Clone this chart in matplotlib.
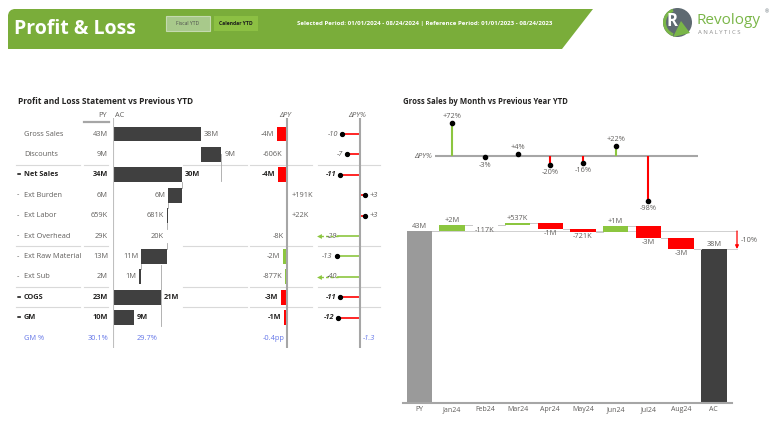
import matplotlib
matplotlib.use("Agg")
import matplotlib.pyplot as plt
from matplotlib.patches import Polygon, Rectangle, Circle, Wedge

plt.rcParams['font.family'] = ['Open Sans', 'DejaVu Sans']

# -----------------------------------------
# DATOS
# -----------------------------------------

rows = ["Gross Sales", "Discounts", "Net Sales", "Ext Burden", "Ext Labor",
        "Ext Overhead", "Ext Raw Material", "Ext Sub", "COGS", "GM"]
row_marks = ["", "", "=", "-", "-", "-", "-", "-", "=", "="]
py_labels = ["43M", "9M", "34M", "6M", "659K", "29K", "13M", "2M", "23M", "10M"]
ac_values = [38.0, 8.8, 29.6, 5.7, 0.681, 0.020, 10.9, 1.2, 20.8, 9.0]
ac_labels = ["38M", "9M", "30M", "6M", "681K", "20K", "11M", "1M", "21M", "9M"]
dpy_values = [-4.3, -0.606, -3.9, 0.191, 0.022, -0.008, -1.7, -0.877, -2.6, -1.3]
dpy_labels = ["-4M", "-606K", "-4M", "+191K", "+22K", "-8K", "-2M", "-877K", "-3M", "-1M"]
dpy_pct = [-10, -7, -11, 3, 3, -29, -13, -40, -11, -12]
favourable = [False, False, False, False, False, True, True, True, False, False]
gm_row = ["GM %", "30.1%", "29.7%", "-0.4pp", "-1.3"]

categories = ["PY", "Jan24", "Feb24", "Mar24", "Apr24", "May24", "Jun24",
              "Jul24", "Aug24", "AC"]
py_total = 43.0
month_delta = [1.5, -0.117, 0.537, -1.4, -0.721, 1.4, -2.9, -2.8]
month_labels = ["+2M", "-117K", "+537K", "-1M", "-721K", "+1M", "-3M", "-3M"]
month_pct = [72, -3, 4, -20, -16, 22, -98]

# -----------------------------------------
# ESTILO
# -----------------------------------------

W, H = 782, 430
GREEN = '#8CC63F'
RED = '#FF0000'
TXT = '#605E5C'
DARK = '#252423'
BLUE = '#6476E8'
AXC = '#A6A6A6'
FS = 5.3

fig = plt.figure(figsize=(W / 100, H / 100), dpi=100)


def px_axes(x0, y0, x1, y1):
    ax = fig.add_axes([x0 / W, 1 - y1 / H, (x1 - x0) / W, (y1 - y0) / H])
    ax.set_axis_off()
    return ax


# -----------------------------------------
# CABECERA
# -----------------------------------------

bg = px_axes(0, 0, W, H)
bg.set_xlim(0, W)
bg.set_ylim(H, 0)

banda = [(8, 49), (8, 15), (9, 12), (11, 10), (14, 9), (593, 9), (562, 49)]
bg.add_patch(Polygon(banda, closed=True, color='#7AAD3A', lw=0))
bg.text(14, 29, "Profit & Loss", color='white', fontsize=14,
        fontweight='bold', va='center', ha='left')

bg.add_patch(Rectangle((166, 16), 44, 15, facecolor='#A8C98B',
                       edgecolor='#C5DAB0', lw=0.8))
bg.text(188, 23.5, "Fiscal YTD", fontsize=3.6, color='#4d4d4d',
        ha='center', va='center')
bg.add_patch(Rectangle((214, 16), 44, 15, facecolor='#8CC043', lw=0))
bg.text(236, 23.5, "Calendar YTD", fontsize=3.6, color='#1a1a1a',
        ha='center', va='center', fontweight='bold')
bg.text(297, 23, "Selected Period: 01/01/2024 - 08/24/2024 | Reference Period: "
        "01/01/2023 - 08/24/2023", fontsize=4.45, color='white',
        fontweight='bold', ha='left', va='center')

# logo
bg.add_patch(Circle((677.5, 22.5), 14.5, color='#5E6A71', lw=0))
bg.add_patch(Wedge((677.5, 22.5), 14.5, 110, 250, width=3, color='#7AB648', lw=0))
bg.add_patch(Polygon([(673, 37), (681, 21), (690, 33)], closed=True,
                     color='#7AB648', lw=0))
bg.text(672, 21, "R", color='white', fontsize=12, fontweight='bold',
        ha='center', va='center')
bg.text(697, 20.5, "Revology", color='#7AB648', fontsize=11,
        ha='left', va='center')
bg.text(765, 12, "®", color='#5E6A71', fontsize=3.5, ha='left', va='center')
bg.text(698, 32, "A N A L Y T I C S", color='#8c8c8c', fontsize=4.3,
        ha='left', va='center')

bg.text(18, 102, "Profit and Loss Statement vs Previous YTD", fontsize=6.0,
        fontweight='bold', color=DARK, va='center')
bg.text(403, 102, "Gross Sales by Month vs Previous Year YTD", fontsize=5.6,
        fontweight='bold', color=DARK, va='center')

# -----------------------------------------
# TABLA PÉRDIDAS Y GANANCIAS
# -----------------------------------------

ROW_TOP, ROW_BOT = 118, 348
Y0, DY = 134, 20.4
n = len(rows)
ylim_rows = (n + (ROW_BOT - (Y0 + DY * n)) / DY, -(Y0 - ROW_TOP) / DY)

tab = px_axes(0, ROW_TOP, 400, ROW_BOT)
tab.set_xlim(0, 400)
tab.set_ylim(*ylim_rows)

tab.text(107, -0.92, "PY", fontsize=FS, color=TXT, ha='right', va='center')
tab.text(115, -0.92, "AC", fontsize=FS, color=TXT, ha='left', va='center')
tab.plot([84, 109], [-0.58, -0.58], color=AXC, lw=1.6, clip_on=False)
tab.text(285, -0.92, "ΔPY", fontsize=FS, color=TXT, ha='center',
         va='center', style='italic')
tab.text(357, -0.92, "ΔPY%", fontsize=FS, color=TXT, ha='center',
         va='center', style='italic')

for i, nombre in enumerate(rows):
    total = row_marks[i] == "="
    col = DARK if total else TXT
    fw = 'bold' if total else 'normal'
    if row_marks[i]:
        tab.text(17, i, row_marks[i], fontsize=FS, color=col, va='center',
                 fontweight=fw)
    tab.text(24, i, nombre, fontsize=FS, color=col, va='center', fontweight=fw)
    tab.text(108, i, py_labels[i], fontsize=FS, color=col, va='center',
             ha='right', fontweight=fw)

tab.text(24, n, gm_row[0], fontsize=FS, color=BLUE, va='center')
tab.text(108, n, gm_row[1], fontsize=FS, color=BLUE, va='center', ha='right')

for sep in [1.5, 5.5, 7.5, 8.5]:
    for a, b in [(16, 80), (84, 108), (183, 247), (250, 312), (318, 380)]:
        tab.plot([a, b], [sep, sep], color='#D9D9D9', lw=0.8)

# --- AC en cascada ---
SC_AC = 2.316
ac_ax = px_axes(113, ROW_TOP, 258, ROW_BOT)
ac_ax.set_xlim(0, 145 / SC_AC)
ac_ax.set_ylim(*ylim_rows)
ac_ax.axvline(0, color='#BFBFBF', lw=0.8)

lefts = []
level = 0
for mark, v in zip(row_marks, ac_values):
    if mark == "-":
        level -= v
        lefts.append(level)
    elif mark == "=" or not lefts:
        lefts.append(0)
        level = v
    else:
        lefts.append(level)
        level += v

for i, (left, v) in enumerate(zip(lefts, ac_values)):
    ac_ax.barh(i, v, left=left, height=0.73, color='#404040')
    total = row_marks[i] == "="
    if row_marks[i] == "-":
        ac_ax.annotate(ac_labels[i], (left, i), xytext=(-2, 0),
                       textcoords='offset points', ha='right', va='center',
                       fontsize=FS, color=TXT)
    else:
        ac_ax.annotate(ac_labels[i], (left + v, i), xytext=(2, 0),
                       textcoords='offset points', ha='left', va='center',
                       fontsize=FS, color=DARK if total else TXT,
                       fontweight='bold' if total else 'normal')

# conectores
for i in range(n - 1):
    if row_marks[i + 1] == "-":
        x = lefts[i] if row_marks[i] == "-" else lefts[i] + ac_values[i]
        ac_ax.plot([x, x], [i + 0.365, i + 0.635], color=AXC, lw=0.6)
ac_ax.plot([lefts[1] + ac_values[1]] * 2, [1.0, 2.3], color=AXC, lw=0.6)
ac_ax.plot([ac_values[8]] * 2, [6.4, 9.4], color=AXC, lw=0.6)
ac_ax.annotate(gm_row[2], (ac_values[9], n), xytext=(2, 0),
               textcoords='offset points', ha='left', va='center',
               fontsize=FS, color=BLUE)

# --- ΔPY ---
SC_D = 2.4
d_ax = px_axes(240, ROW_TOP, 315, ROW_BOT)
d_ax.set_xlim(-(287 - 240) / SC_D, (315 - 287) / SC_D)
d_ax.set_ylim(*ylim_rows)
d_ax.axvline(0, color=AXC, lw=1.5, zorder=3)
for i, v in enumerate(dpy_values):
    c = GREEN if favourable[i] else RED
    d_ax.barh(i, v, height=0.73, color=c)
    total = row_marks[i] == "="
    kw = dict(fontsize=FS, va='center', textcoords='offset points',
              color=DARK if total else TXT,
              fontweight='bold' if total else 'normal')
    if v < 0:
        d_ax.annotate(dpy_labels[i], (v, i), xytext=(-2, 0), ha='right', **kw)
    else:
        d_ax.annotate(dpy_labels[i], (v, i), xytext=(3, 0), ha='left', **kw)
d_ax.annotate(gm_row[3], (0, n), xytext=(-2, 0), textcoords='offset points',
              ha='right', va='center', fontsize=FS, color=BLUE)

# --- ΔPY% ---
SC_P = 1.8
CLIP = -12.5
p_ax = px_axes(300, ROW_TOP, 395, ROW_BOT)
p_ax.set_xlim(-60 / SC_P, 35 / SC_P)
p_ax.set_ylim(*ylim_rows)
p_ax.axvline(0, color=AXC, lw=1.5, zorder=3)
for i, v in enumerate(dpy_pct):
    c = GREEN if favourable[i] else RED
    total = row_marks[i] == "="
    kw = dict(fontsize=FS, va='center', textcoords='offset points',
              color=DARK if total else TXT, style='italic',
              fontweight='bold' if total else 'normal')
    lab = f"{v:+d}"
    if v < CLIP - 1.5:
        p_ax.plot([0, CLIP], [i, i], color=c, lw=1.2)
        p_ax.plot([CLIP, CLIP - 9.5], [i, i], color=c, lw=1.0, ls=(0, (2, 1.5)))
        p_ax.plot(CLIP - 10.3, i, marker='<', color=c, ms=3.5, mew=0)
        p_ax.annotate(lab, (CLIP, i), xytext=(-0.5, 0), ha='right', **kw)
    else:
        p_ax.plot([0, v], [i, i], color=c, lw=1.2)
        p_ax.plot(v, i, 'o', color='black', ms=2.8)
        if v < 0:
            p_ax.annotate(lab, (v, i), xytext=(-3, 0), ha='right', **kw)
        else:
            p_ax.annotate(lab, (v, i), xytext=(3, 0), ha='left', **kw)
p_ax.annotate(gm_row[4], (0, n), xytext=(2, 0), textcoords='offset points',
              ha='left', va='center', fontsize=FS, color=BLUE, style='italic')

# -----------------------------------------
# VENTAS BRUTAS POR MES
# -----------------------------------------

CX0, CW = 419.5, 32.7
X_L, X_R = 403, 765
xlim_cat = (-(CX0 - X_L) / CW, (X_R - CX0) / CW)
x_end = (732 - CX0) / CW

# lollipop ΔPY%
SC_L = 0.455
l_ax = px_axes(X_L, 112, X_R, 215)
l_ax.set_xlim(*xlim_cat)
l_ax.set_ylim(-(215 - 156) / SC_L, (156 - 112) / SC_L)
l_ax.hlines(0, 0.47, 8.52, color=AXC, lw=1.5, zorder=1)
l_ax.text(0.38, 0, "ΔPY%", fontsize=FS, color=TXT, style='italic',
          ha='right', va='center')
for k, v in enumerate(month_pct):
    x = k + 1
    l_ax.vlines(x, 0, v, color=GREEN if v >= 0 else RED, lw=1.5, zorder=2)
    l_ax.plot(x, v, 'o', color='black', ms=3.0, zorder=3)
    if v >= 0:
        l_ax.annotate(f"{v:+d}%", (x, v), xytext=(0, 2.5),
                      textcoords='offset points', ha='center', va='bottom',
                      fontsize=FS, color=TXT)
    else:
        l_ax.annotate(f"{v:+d}%", (x, v), xytext=(0, -3),
                      textcoords='offset points', ha='center', va='top',
                      fontsize=FS, color=TXT)

# cascada
SC_W = 4.0
w_ax = fig.add_axes([X_L / W, 1 - 403 / H, (X_R - X_L) / W, (403 - 200) / H])
w_ax.set_xlim(*xlim_cat)
w_ax.set_ylim(0, (403 - 200) / SC_W)
for s in ['left', 'right', 'top']:
    w_ax.spines[s].set_visible(False)
w_ax.spines['bottom'].set_color(AXC)
w_ax.spines['bottom'].set_linewidth(1.5)
w_ax.spines['bottom'].set_bounds(xlim_cat[0], x_end)
w_ax.set_yticks([])
w_ax.set_xticks(range(len(categories)))
w_ax.set_xticklabels(categories)
w_ax.tick_params(axis='x', length=0, labelsize=5, labelcolor=TXT, pad=2.5)
w_ax.patch.set_visible(False)

BW = 0.78
ac_total = py_total + sum(month_delta)
w_ax.bar(0, py_total, width=BW, color='#9A9A9A', zorder=2)
w_ax.bar(len(categories) - 1, ac_total, width=BW, color='#404040', zorder=2)
w_ax.annotate(f"{py_total:.0f}M", (0, py_total), xytext=(0, 1),
              textcoords='offset points', ha='center', va='bottom',
              fontsize=FS, color=TXT)
w_ax.annotate("38M", (len(categories) - 1, ac_total), xytext=(0, 1),
              textcoords='offset points', ha='center', va='bottom',
              fontsize=FS, color=TXT)

level = py_total
for k, d in enumerate(month_delta):
    x = k + 1
    w_ax.plot([x - 1 + BW / 2, x - BW / 2], [level, level], color='#C8C8C8',
              lw=0.7, zorder=1)
    w_ax.bar(x, d, bottom=level, width=BW, color=GREEN if d >= 0 else RED,
             zorder=2)
    level += d
    if d >= 0:
        w_ax.annotate(month_labels[k], (x, level), xytext=(0, 1),
                      textcoords='offset points', ha='center', va='bottom',
                      fontsize=FS, color=TXT)
    else:
        w_ax.annotate(month_labels[k], (x, level), xytext=(0, -1),
                      textcoords='offset points', ha='center', va='top',
                      fontsize=FS, color=TXT)
w_ax.plot([8 + BW / 2, 9 - BW / 2], [level, level], color='#C8C8C8', lw=0.7)

# referencia PY -> AC
x_ref = (737 - CX0) / CW
w_ax.plot([BW / 2, x_ref], [py_total, py_total], color='#D0D0D0', lw=0.7,
          zorder=0)
w_ax.plot([9 + BW / 2, x_ref], [ac_total, ac_total], color='#D0D0D0', lw=0.7)
w_ax.annotate('', xy=(x_ref, ac_total), xytext=(x_ref, py_total),
              arrowprops=dict(arrowstyle='-|>', color=RED, lw=0.9,
                              mutation_scale=5, shrinkA=0, shrinkB=0))
cambio = (ac_total - py_total) / py_total * 100
w_ax.annotate(f"{cambio:.0f}%", (x_ref, (py_total + ac_total) / 2),
              xytext=(3, 0), textcoords='offset points', ha='left',
              va='center', fontsize=FS, color=TXT)

fig.savefig("out.png", dpi=100)
